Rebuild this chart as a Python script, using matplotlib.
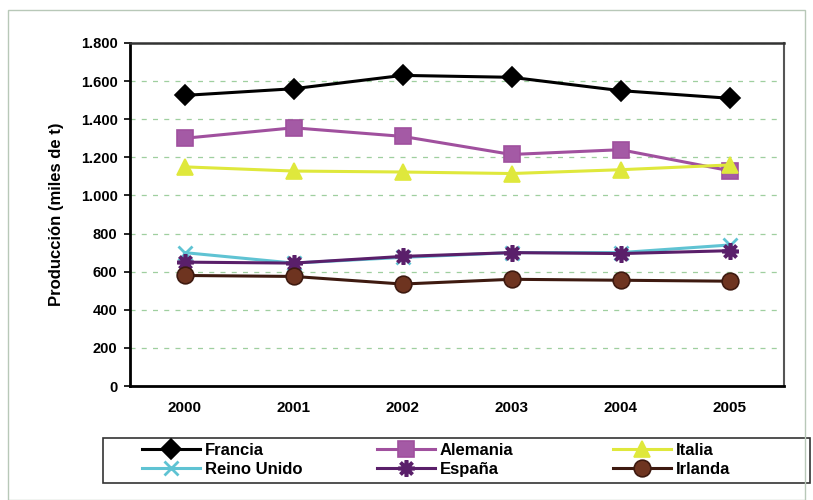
import numpy as np
import matplotlib.pyplot as plt
from matplotlib.patches import Rectangle

plt.rcParams['font.family'] = ['Liberation Sans', 'DejaVu Sans']

years = ['2000', '2001', '2002', '2003', '2004', '2005']
francia = [1525, 1560, 1630, 1620, 1550, 1510]
alemania = [1300, 1355, 1310, 1215, 1240, 1130]
italia = [1150, 1128, 1123, 1115, 1135, 1160]
reino_unido = [700, 645, 675, 700, 700, 740]
espana = [650, 645, 680, 700, 695, 710]
irlanda = [580, 575, 535, 560, 555, 550]

# name, values, line colour, marker, face colour, marker size, edge width
series = [
    ('Francia', francia, 'black', 'D', 'black', 10, 1.2),
    ('Alemania', alemania, '#a0509e', 's', '#a45aa5', 11, 1.2),
    ('Italia', italia, '#dfe83c', '^', '#dfe83c', 11, 1.2),
    ('Reino Unido', reino_unido, '#5fc3d3', 'x', '#5fc3d3', 10, 2.0),
    ('España', espana, '#5a1f6a', (8, 2, 0), '#5a1f6a', 12, 2.6),
    ('Irlanda', irlanda, '#3e1a10', 'o', '#6e3420', 12, 1.2),
]

fig = plt.figure(figsize=(8.13, 5.0), dpi=100)
ax = fig.add_axes([130 / 813, 1 - 386 / 500, 654 / 813, 343 / 500])

x = np.arange(len(years))
handles = []
for name, vals, col, mk, fc, ms, mew in series:
    h, = ax.plot(x, vals, color=col, lw=2.2, marker=mk, markersize=ms,
                 markerfacecolor=fc, markeredgecolor=col,
                 markeredgewidth=mew, label=name, zorder=3)
    handles.append(h)

ax.set_xlim(-0.5, 5.5)
ax.set_ylim(0, 1800)
ax.set_xticks(x)
ax.set_xticklabels(years, fontsize=11, fontweight='bold')
yt = np.arange(0, 1801, 200)
ax.set_yticks(yt)
ax.set_yticklabels([f'{v:,}'.replace(',', '.') for v in yt], fontsize=10.5, fontweight='bold')
ax.tick_params(axis='x', length=0, pad=11)
ax.tick_params(axis='y', length=4, width=1.2, direction='out', pad=5)
ax.set_ylabel('Producción (miles de t)', fontsize=12, fontweight='bold')
ax.yaxis.set_label_coords(-0.101, 0.5)

for v in yt[1:]:
    ax.axhline(v, color='#9fcf9f', lw=0.9, ls=(0, (4, 5)), zorder=1)

ax.spines['left'].set_linewidth(2)
ax.spines['bottom'].set_linewidth(2)
ax.spines['top'].set_linewidth(1.8)
ax.spines['top'].set_color('#333333')
ax.spines['right'].set_linewidth(1.5)
ax.spines['right'].set_color('#555555')

# legend: frame plus three columns placed like the original
fig.patches.append(Rectangle((103 / 813, 1 - 483 / 500), 707 / 813, 45 / 500,
                             transform=fig.transFigure, fill=False,
                             edgecolor='#333333', lw=1.2))
col_x = [142, 377, 613]
for i, cx in enumerate(col_x):
    pair = [handles[i], handles[i + 3]]
    leg = fig.legend(handles=pair, loc='center left',
                     bbox_to_anchor=(cx / 813, 1 - 460 / 500), frameon=False,
                     prop={'size': 12, 'weight': 'bold'}, handlelength=3.5,
                     borderpad=0, labelspacing=0.25, handletextpad=0.25,
                     borderaxespad=0)

fig.patches.append(Rectangle((8 / 813, 0.0), 1 - 16 / 813, 1 - 10 / 500,
                             transform=fig.transFigure, fill=False,
                             edgecolor='#b8c8b8', lw=1))

fig.savefig('out.png', dpi=100)
